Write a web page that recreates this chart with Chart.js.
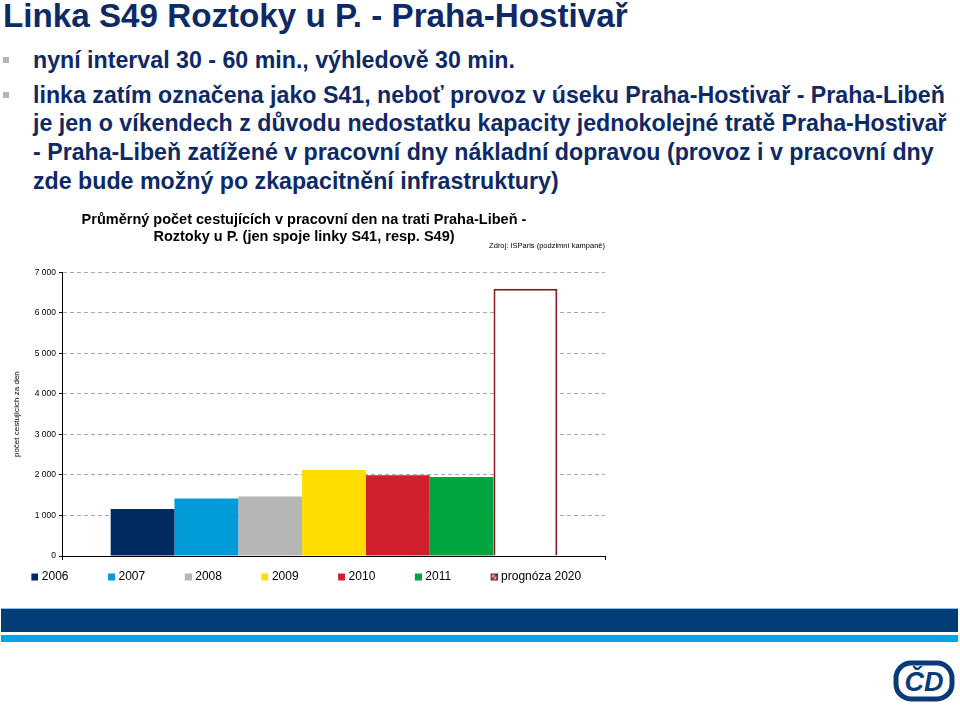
<!DOCTYPE html>
<html lang="cs">
<head>
<meta charset="utf-8">
<title>Linka S49 Roztoky u P. - Praha-Hostivař</title>
<script src="https://cdn.jsdelivr.net/npm/chart.js@4.4.1/dist/chart.umd.min.js"></script>
<style>
    html, body { margin: 0; padding: 0; background: #fff; }
    body {
        width: 960px; height: 705px; position: relative; overflow: hidden;
        font-family: "Liberation Sans", Arial, sans-serif;
    }
    h1 {
        position: absolute; left: 3px; top: -1px; margin: 0;
        font-size: 33.2px; line-height: 33px; font-weight: bold; color: #0e2a66;
        white-space: nowrap;
    }
    ul {
        position: absolute; left: 0; top: 46px; margin: 0; padding: 0; list-style: none;
        color: #0e2a66; font-weight: bold; font-size: 23.2px; line-height: 28.7px;
    }
    li { position: relative; padding-left: 33px; margin-bottom: 6px; white-space: nowrap; }
    li::before {
        content: ''; position: absolute; left: 3px; top: 11px;
        width: 6px; height: 6px; background: #b5b5b5;
    }
    #chartBox { position: absolute; left: 0; top: 201px; }
    .band-dark {
        position: absolute; left: 1px; right: 2px; top: 608px; height: 23px;
        background: #013d77; border-top: 1px solid #8fc0e8;
    }
    .band-light {
        position: absolute; left: 1px; right: 2px; top: 635px; height: 7px;
        background: #00a6e5;
    }
    .logo { position: absolute; left: 892px; top: 653px; }
</style>
</head>
<body>

<h1>Linka S49 Roztoky u P. - Praha-Hostivař</h1>
<ul>
    <li>nyní interval 30 - 60 min., výhledově 30 min.</li>
    <li>linka zatím označena jako S41, neboť provoz v úseku Praha-Hostivař - Praha-Libeň<br>je jen o víkendech z důvodu nedostatku kapacity jednokolejné tratě Praha-Hostivař<br>- Praha-Libeň zatížené v pracovní dny nákladní dopravou (provoz i v pracovní dny<br>zde bude možný po zkapacitnění infrastruktury)</li>
</ul>

<div id="chartBox"><canvas id="passengerChart" width="614" height="392"></canvas></div>

<div class="band-dark"></div>
<div class="band-light"></div>

<svg class="logo" width="66" height="50" viewBox="0 0 66 50">
    <rect x="4" y="10" width="56" height="36" rx="15" fill="none" stroke="#0b3a78" stroke-width="5"/>
    <text x="32" y="38" text-anchor="middle" font-family="Liberation Sans, Arial" font-weight="bold"
          font-style="italic" font-size="27" fill="#0b3a78">ČD</text>
</svg>

<script>
// Data
const categories = [''];
const seriesLabels = ['2006', '2007', '2008', '2009', '2010', '2011', 'prognóza 2020'];
const seriesValues = [1160, 1420, 1470, 2120, 1990, 1950, 6590];
const yMin = 0;
const yMax = 7000;
const yStep = 1000;

const chartTitle = [
    'Průměrný počet cestujících v pracovní den na trati Praha-Libeň -',
    'Roztoky u P. (jen spoje linky S41, resp. S49)'
];
const sourceNote = 'Zdroj: ISParis (podzimní kampaně)';
const yAxisTitle = 'počet cestujících za den';

// Styles
const fillColors = ['#002a60', '#009bd8', '#b6b7b5', '#ffdd00', '#d11f2e', '#00a540', '#ffffff'];
const edgeColors = ['#002a60', '#009bd8', '#b6b7b5', '#ffdd00', '#d11f2e', '#00a540', '#861c22'];
const FONT = '"Liberation Sans", Arial, sans-serif';

const SLOT = 33;      // legend slot width (spacing between entries)
const SWATCH = 7;

// Legend swatch images: small square drawn at the right end of a slot
function makeSwatch(i) {
    const c = document.createElement('canvas');
    c.width = SLOT + 5;
    c.height = SWATCH + 2;
    const g = c.getContext('2d');
    const x0 = c.width - SWATCH;
    if (i === seriesLabels.length - 1) {
        g.fillStyle = '#fff';
        g.fillRect(x0, 1, SWATCH, SWATCH);
        g.strokeStyle = edgeColors[i];
        g.lineWidth = 1.5;
        g.strokeRect(x0 + 0.75, 1.75, SWATCH - 1.5, SWATCH - 1.5);
        g.beginPath();
        g.moveTo(x0 + 1, SWATCH);
        g.lineTo(x0 + SWATCH - 1, 2);
        g.stroke();
    } else {
        g.fillStyle = fillColors[i];
        g.fillRect(x0, 1, SWATCH, SWATCH);
    }
    return c;
}

const swatches = seriesLabels.map((_, i) => makeSwatch(i));

const fmt = v => String(v).replace(/\B(?=(\d{3})+(?!\d))/g, ' ');

// shift legend row a bit to the left, as in the original
const legendNudge = {
    id: 'legendNudge',
    afterLayout(chart) {
        chart.legend.left -= 12;
        chart.legend.right -= 12;
    }
};

new Chart(document.getElementById('passengerChart'), {
    type: 'bar',
    data: {
        labels: categories,
        datasets: seriesLabels.map((label, i) => ({
            label: label,
            data: [seriesValues[i]],
            backgroundColor: fillColors[i],
            borderColor: edgeColors[i],
            borderWidth: i === seriesLabels.length - 1 ? 2 : 0,
            barPercentage: 1,
            categoryPercentage: 0.824
        }))
    },
    options: {
        responsive: false,
        animation: false,
        layout: { padding: { left: 3, right: 9, top: 0, bottom: 0 } },
        plugins: {
            title: {
                display: true,
                text: chartTitle,
                color: '#000',
                font: { family: FONT, size: 14.5, weight: 'bold', lineHeight: 1.17 },
                padding: { top: 11, bottom: -4.5 }
            },
            subtitle: {
                display: true,
                text: sourceNote,
                align: 'end',
                color: '#000',
                font: { family: FONT, size: 7.5, lineHeight: 1.2 },
                padding: { top: 0, bottom: 21.8 }
            },
            legend: {
                position: 'bottom',
                labels: {
                    usePointStyle: true,
                    pointStyleWidth: SLOT,
                    boxHeight: 9,
                    padding: 11,
                    color: '#000',
                    font: { family: FONT, size: 12 },
                    generateLabels: (chart) => chart.data.datasets.map((ds, i) => ({
                        text: ds.label,
                        pointStyle: swatches[i],
                        fillStyle: fillColors[i],
                        strokeStyle: edgeColors[i],
                        lineWidth: 0,
                        fontColor: '#000',
                        hidden: false,
                        datasetIndex: i
                    }))
                }
            },
            tooltip: { enabled: false }
        },
        scales: {
            x: {
                ticks: { display: false },
                grid: {
                    display: true,
                    drawOnChartArea: false,
                    drawTicks: true,
                    tickLength: 4,
                    tickColor: '#000',
                    offset: true
                },
                border: { display: true, color: '#000', width: 1 }
            },
            y: {
                min: yMin,
                max: yMax,
                ticks: {
                    stepSize: yStep,
                    color: '#000',
                    padding: 3,
                    font: { family: FONT, size: 8.5 },
                    callback: fmt
                },
                grid: {
                    color: ctx => ctx.tick && ctx.tick.value === 0 ? 'rgba(0,0,0,0)' : '#a9a9a9',
                    tickColor: '#000',
                    tickLength: 4
                },
                border: { display: true, color: '#000', width: 1, dash: [4, 3] },
                title: {
                    display: true,
                    text: yAxisTitle,
                    color: '#000',
                    font: { family: FONT, size: 8, lineHeight: 1.2 },
                    padding: { top: 9.2, bottom: 9.9 }
                }
            }
        }
    },
    plugins: [legendNudge]
});
</script>
</body>
</html>
